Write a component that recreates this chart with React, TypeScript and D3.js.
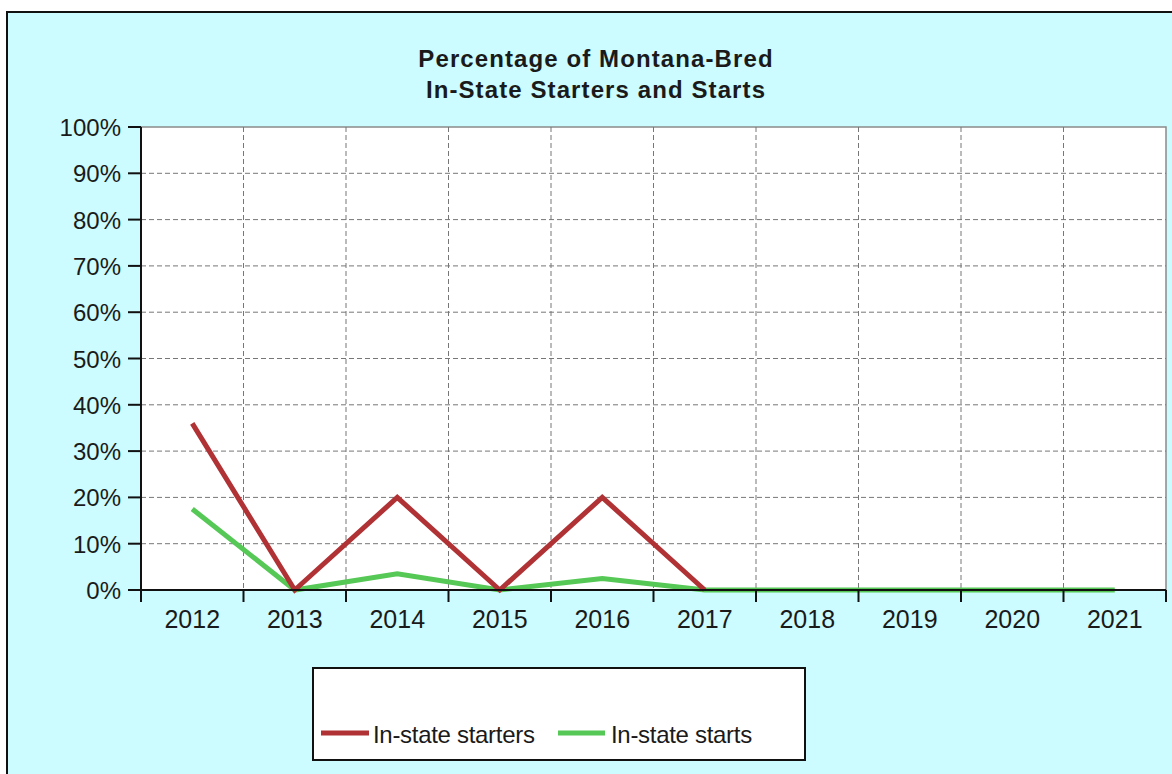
import React from "react";
import * as d3 from "d3";

const years = ["2012","2013","2014","2015","2016","2017","2018","2019","2020","2021"];
const starters: (number | null)[] = [36, 0, 20, 0, 20, 0, null, null, null, null];
const starts: (number | null)[] = [17.5, 0, 3.5, 0, 2.5, 0, 0, 0, 0, 0];
const yTicks = [0,10,20,30,40,50,60,70,80,90,100];
const seriesNames = ["In-state starters", "In-state starts"];
const colors = ["#B03235", "#55C855"];

const W = 1172, H = 774;
const left = 141, right = 1166, top = 127, bottom = 590;

export default function App() {
  const x = d3.scaleBand().domain(years).range([left, right]);
  const y = d3.scaleLinear().domain([0, 100]).range([bottom, top]);
  const line = d3.line<number | null>()
    .defined(d => d !== null)
    .x((_, i) => (x(years[i]) as number) + x.bandwidth() / 2)
    .y(d => y(d as number));
  const font = "Arial, 'Liberation Sans', sans-serif";
  const boundaries = years.map((_, i) => left + i * x.step()).concat([right]);
  return (
    <svg width={W} height={H} style={{ position: "absolute", left: 0, top: 0 }} fontFamily={font}>
      <rect x={7} y={12} width={W} height={H} fill="#CCFCFF" stroke="#111" strokeWidth={2} />
      <text x={596} y={67} textAnchor="middle" fontSize={24} fontWeight="bold" letterSpacing={1.1} fill="#1a1a1a">Percentage of Montana-Bred</text>
      <text x={596} y={98} textAnchor="middle" fontSize={24} fontWeight="bold" letterSpacing={1.1} fill="#1a1a1a">In-State Starters and Starts</text>
      <rect x={left} y={top} width={right - left} height={bottom - top} fill="#fff" stroke="#8a8a8a" strokeWidth={1.5} />
      {yTicks.filter(t => t > 0 && t < 100).map(t => (
        <line key={"gy" + t} x1={left} x2={right} y1={y(t)} y2={y(t)} stroke="#777" strokeDasharray="5,3" strokeWidth={1} />
      ))}
      {boundaries.slice(1, -1).map((b, i) => (
        <line key={"gx" + i} x1={b} x2={b} y1={top} y2={bottom} stroke="#777" strokeDasharray="5,3" strokeWidth={1} />
      ))}
      <path d={line(starts) || ""} fill="none" stroke={colors[1]} strokeWidth={5} strokeLinejoin="miter" />
      <path d={line(starters) || ""} fill="none" stroke={colors[0]} strokeWidth={5} strokeLinejoin="miter" />
      <line x1={left} x2={left} y1={top} y2={bottom} stroke="#111" strokeWidth={2} />
      <line x1={left} x2={right} y1={bottom} y2={bottom} stroke="#111" strokeWidth={2} />
      {yTicks.map(t => (
        <g key={"yt" + t}>
          <line x1={left - 13} x2={left} y1={y(t)} y2={y(t)} stroke="#111" strokeWidth={2} />
          <text x={121} y={y(t) + 9} textAnchor="end" fontSize={24} fill="#1a1a1a">{t + "%"}</text>
        </g>
      ))}
      {boundaries.map((b, i) => (
        <line key={"xt" + i} x1={b} x2={b} y1={bottom} y2={bottom + 12} stroke="#111" strokeWidth={2} />
      ))}
      {years.map(yr => (
        <text key={yr} x={(x(yr) as number) + x.bandwidth() / 2} y={628} textAnchor="middle" fontSize={25} fill="#1a1a1a">{yr}</text>
      ))}
      <rect x={313} y={668} width={492} height={92} fill="#fff" stroke="#111" strokeWidth={2} />
      <line x1={321} x2={369} y1={733} y2={733} stroke={colors[0]} strokeWidth={5} />
      <text x={373} y={743} fontSize={24} letterSpacing={-0.3} fill="#1a1a1a">{seriesNames[0]}</text>
      <line x1={558} x2={605} y1={733} y2={733} stroke={colors[1]} strokeWidth={5} />
      <text x={611} y={743} fontSize={24} letterSpacing={-0.3} fill="#1a1a1a">{seriesNames[1]}</text>
    </svg>
  );
}
